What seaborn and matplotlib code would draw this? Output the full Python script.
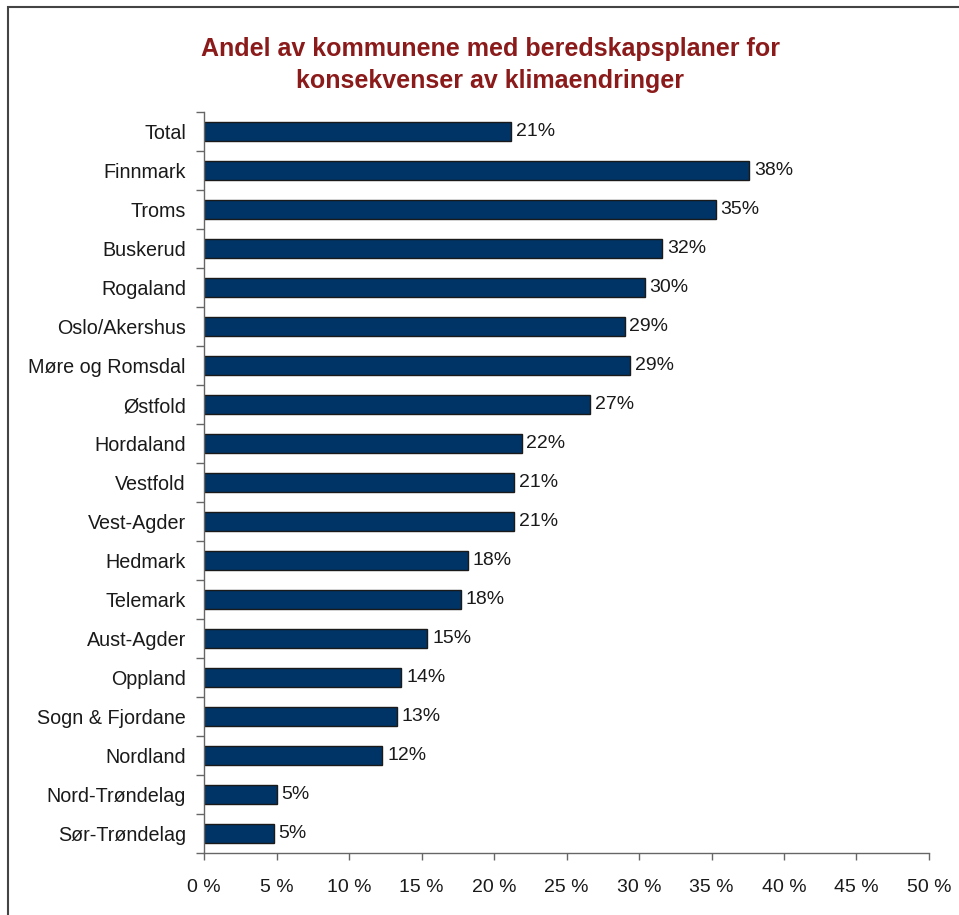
import pandas as pd
import matplotlib
matplotlib.use("Agg")
import matplotlib.pyplot as plt
from matplotlib.patches import Rectangle
from matplotlib.ticker import FixedLocator
import seaborn as sns

# Data (share in percent)
counties = [
    "Total", "Finnmark", "Troms", "Buskerud", "Rogaland", "Oslo/Akershus",
    "Møre og Romsdal", "Østfold", "Hordaland", "Vestfold", "Vest-Agder",
    "Hedmark", "Telemark", "Aust-Agder", "Oppland", "Sogn & Fjordane",
    "Nordland", "Nord-Trøndelag", "Sør-Trøndelag",
]
shares = [
    21.2, 37.6, 35.3, 31.6, 30.4, 29.0,
    29.4, 26.6, 21.9, 21.4, 21.4,
    18.2, 17.7, 15.4, 13.6, 13.3,
    12.3, 5.0, 4.8,
]
x_ticks = [0, 5, 10, 15, 20, 25, 30, 35, 40, 45, 50]
title = "Andel av kommunene med beredskapsplaner for\nkonsekvenser av klimaendringer"

df = pd.DataFrame({"fylke": counties, "andel": shares})

sns.set_theme(style="white")
plt.rcParams["font.family"] = ["Liberation Sans", "DejaVu Sans"]

fig = plt.figure(figsize=(9.59, 9.15), dpi=100)
ax = fig.add_axes([204 / 959, 1 - 853 / 915, 725 / 959, 741 / 915])

sns.barplot(data=df, x="andel", y="fylke", orient="h", color="#003366",
            saturation=1, width=0.47, edgecolor="#1a1a1a", linewidth=1, ax=ax)

ax.bar_label(ax.containers[0], fmt="{:.0f}%", padding=3.5, fontsize=14,
             color="#1a1a1a")

ax.set_xlim(0, 50)
ax.set_ylim(len(counties) - 0.5, -0.5)
ax.set_xticks(x_ticks)
ax.set_xticklabels([f"{t} %" for t in x_ticks])
ax.set_xlabel("")
ax.set_ylabel("")

# Excel style ticks between categories
ax.yaxis.set_minor_locator(FixedLocator([i - 0.5 for i in range(len(counties) + 1)]))
ax.tick_params(axis="y", which="major", length=0, pad=13, labelsize=14.2,
               labelcolor="#1a1a1a")
ax.tick_params(axis="y", which="minor", length=6, width=1, color="#666666",
               direction="out", left=True)
ax.tick_params(axis="x", which="major", length=5, width=1, color="#666666",
               direction="out", bottom=True, pad=14, labelsize=14,
               labelcolor="#1a1a1a")

for side in ["top", "right"]:
    ax.spines[side].set_visible(False)
for side in ["left", "bottom"]:
    ax.spines[side].set_color("#666666")
    ax.spines[side].set_linewidth(1)
ax.grid(False)

fig.text(490 / 959, 1 - 65 / 915, title, ha="center", va="center",
         fontsize=18, fontweight="bold", color="#8b1a1a", linespacing=1.4)

# outer frame, open to the right and bottom like the cropped original
frame = Rectangle((8 / 959, -0.05), 1.2, 1 - 6.5 / 915 + 0.05,
                  transform=fig.transFigure, fill=False, edgecolor="#444444",
                  linewidth=1.5, clip_on=False)
fig.patches.append(frame)

fig.savefig("out.png", dpi=100)
plt.close(fig)
